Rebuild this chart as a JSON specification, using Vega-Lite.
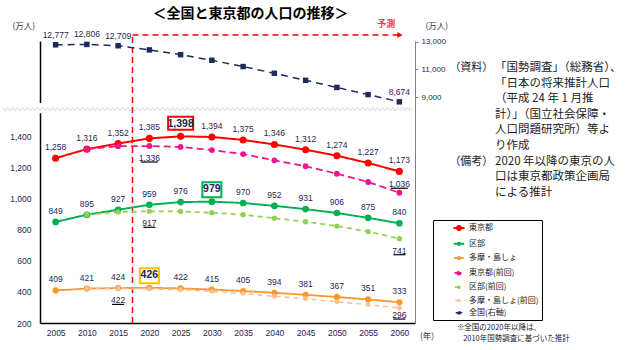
{
  "$schema": "https://vega.github.io/schema/vega-lite/v6.json",
  "width": 375,
  "height": 282,
  "autosize": {"type": "none"},
  "padding": {"left": 40, "top": 41, "right": 212, "bottom": 27},
  "background": "white",
  "title": {"text": "＜全国と東京都の人口の推移＞", "fontSize": 14, "font": "Noto Sans CJK JP", "fontWeight": "bold", "anchor": "middle", "frame": "group", "dx": 23, "offset": -1, "color": "#000000"},
  "config": {"view": {"stroke": null}, "font": "Noto Sans CJK JP"},
  "datasets": {
    "tokyo": [
      {"year": 2005, "series": "東京都", "value": 1258},
      {"year": 2010, "series": "東京都", "value": 1316},
      {"year": 2015, "series": "東京都", "value": 1352},
      {"year": 2020, "series": "東京都", "value": 1385},
      {"year": 2025, "series": "東京都", "value": 1398},
      {"year": 2030, "series": "東京都", "value": 1394},
      {"year": 2035, "series": "東京都", "value": 1375},
      {"year": 2040, "series": "東京都", "value": 1346},
      {"year": 2045, "series": "東京都", "value": 1312},
      {"year": 2050, "series": "東京都", "value": 1274},
      {"year": 2055, "series": "東京都", "value": 1227},
      {"year": 2060, "series": "東京都", "value": 1173},
      {"year": 2005, "series": "区部", "value": 849},
      {"year": 2010, "series": "区部", "value": 895},
      {"year": 2015, "series": "区部", "value": 927},
      {"year": 2020, "series": "区部", "value": 959},
      {"year": 2025, "series": "区部", "value": 976},
      {"year": 2030, "series": "区部", "value": 979},
      {"year": 2035, "series": "区部", "value": 970},
      {"year": 2040, "series": "区部", "value": 952},
      {"year": 2045, "series": "区部", "value": 931},
      {"year": 2050, "series": "区部", "value": 906},
      {"year": 2055, "series": "区部", "value": 875},
      {"year": 2060, "series": "区部", "value": 840},
      {"year": 2005, "series": "多摩・島しょ", "value": 409},
      {"year": 2010, "series": "多摩・島しょ", "value": 421},
      {"year": 2015, "series": "多摩・島しょ", "value": 424},
      {"year": 2020, "series": "多摩・島しょ", "value": 426},
      {"year": 2025, "series": "多摩・島しょ", "value": 422},
      {"year": 2030, "series": "多摩・島しょ", "value": 415},
      {"year": 2035, "series": "多摩・島しょ", "value": 405},
      {"year": 2040, "series": "多摩・島しょ", "value": 394},
      {"year": 2045, "series": "多摩・島しょ", "value": 381},
      {"year": 2050, "series": "多摩・島しょ", "value": 367},
      {"year": 2055, "series": "多摩・島しょ", "value": 351},
      {"year": 2060, "series": "多摩・島しょ", "value": 333},
      {"year": 2010, "series": "東京都(前回)", "value": 1316},
      {"year": 2015, "series": "東京都(前回)", "value": 1335},
      {"year": 2020, "series": "東京都(前回)", "value": 1336},
      {"year": 2025, "series": "東京都(前回)", "value": 1330},
      {"year": 2030, "series": "東京都(前回)", "value": 1310},
      {"year": 2035, "series": "東京都(前回)", "value": 1284},
      {"year": 2040, "series": "東京都(前回)", "value": 1244},
      {"year": 2045, "series": "東京都(前回)", "value": 1206},
      {"year": 2050, "series": "東京都(前回)", "value": 1158},
      {"year": 2055, "series": "東京都(前回)", "value": 1105},
      {"year": 2060, "series": "東京都(前回)", "value": 1036},
      {"year": 2010, "series": "区部(前回)", "value": 895},
      {"year": 2015, "series": "区部(前回)", "value": 913},
      {"year": 2020, "series": "区部(前回)", "value": 917},
      {"year": 2025, "series": "区部(前回)", "value": 916},
      {"year": 2030, "series": "区部(前回)", "value": 908},
      {"year": 2035, "series": "区部(前回)", "value": 895},
      {"year": 2040, "series": "区部(前回)", "value": 873},
      {"year": 2045, "series": "区部(前回)", "value": 850},
      {"year": 2050, "series": "区部(前回)", "value": 822},
      {"year": 2055, "series": "区部(前回)", "value": 787},
      {"year": 2060, "series": "区部(前回)", "value": 741},
      {"year": 2010, "series": "多摩・島しょ(前回)", "value": 421},
      {"year": 2015, "series": "多摩・島しょ(前回)", "value": 422},
      {"year": 2020, "series": "多摩・島しょ(前回)", "value": 419},
      {"year": 2025, "series": "多摩・島しょ(前回)", "value": 414},
      {"year": 2030, "series": "多摩・島しょ(前回)", "value": 402},
      {"year": 2035, "series": "多摩・島しょ(前回)", "value": 389},
      {"year": 2040, "series": "多摩・島しょ(前回)", "value": 371},
      {"year": 2045, "series": "多摩・島しょ(前回)", "value": 356},
      {"year": 2050, "series": "多摩・島しょ(前回)", "value": 336},
      {"year": 2055, "series": "多摩・島しょ(前回)", "value": 318},
      {"year": 2060, "series": "多摩・島しょ(前回)", "value": 296}
    ],
    "japan": [
      {"year": 2005, "series": "全国(右軸)", "value": 12777},
      {"year": 2010, "series": "全国(右軸)", "value": 12806},
      {"year": 2015, "series": "全国(右軸)", "value": 12709},
      {"year": 2020, "series": "全国(右軸)", "value": 12410},
      {"year": 2025, "series": "全国(右軸)", "value": 12066},
      {"year": 2030, "series": "全国(右軸)", "value": 11662},
      {"year": 2035, "series": "全国(右軸)", "value": 11212},
      {"year": 2040, "series": "全国(右軸)", "value": 10728},
      {"year": 2045, "series": "全国(右軸)", "value": 10221},
      {"year": 2050, "series": "全国(右軸)", "value": 9708},
      {"year": 2055, "series": "全国(右軸)", "value": 9193},
      {"year": 2060, "series": "全国(右軸)", "value": 8674}
    ]
  },
  "layer": [
    {
      "data": {"values": [{"k": 1}]},
      "encoding": {
        "x": {"type": "quantitative", "scale": {"domain": [2002.5, 2062.5], "nice": false, "zero": false},
          "axis": {"values": [2005, 2010, 2015, 2020, 2025, 2030, 2035, 2040, 2045, 2050, 2055, 2060], "labelExpr": "format(datum.value, 'd')", "labelOverlap": false, "title": null, "grid": false, "domainColor": "#000000", "domainWidth": 1.5, "ticks": false, "labelFontSize": 8.5, "labelColor": "#262650", "labelFont": "Liberation Sans Narrow, Liberation Sans", "labelPadding": 5}},
        "y": {"type": "quantitative", "scale": {"domain": [200, 2010], "nice": false, "zero": false}, "axis": null}
      },
      "layer": [
        {"mark": {"type": "rect", "color": "white"},
          "encoding": {"x": {"datum": 1990, "type": "quantitative"}, "x2": {"datum": 2062.2}, "y": {"datum": 1546, "type": "quantitative"}, "y2": {"datum": 1612}}},
        {"mark": {"type": "text", "text": "〰〰〰〰〰〰〰〰〰〰〰〰〰〰〰〰〰〰〰〰〰〰〰〰〰〰〰〰〰〰〰〰〰〰〰〰〰〰〰〰〰", "fontSize": 10, "color": "#c8c8c8", "font": "Noto Sans CJK JP"},
          "encoding": {"x": {"datum": 2029.3, "type": "quantitative"}, "y": {"datum": 1567, "type": "quantitative"}}},
        {"mark": {"type": "rule", "color": "#FF0000", "strokeDash": [6, 4], "strokeWidth": 1.5},
          "encoding": {"x": {"datum": 2017.3, "type": "quantitative"}, "y": {"datum": 200, "type": "quantitative"}, "y2": {"datum": 2048}}},
        {"mark": {"type": "rule", "color": "#FF0000", "strokeDash": [6, 4], "strokeWidth": 1.5},
          "encoding": {"x": {"datum": 2017.3, "type": "quantitative"}, "x2": {"datum": 2059.8}, "y": {"datum": 2048, "type": "quantitative"}}},
        {"mark": {"type": "point", "shape": "triangle-right", "filled": true, "size": 36, "color": "#FF0000", "opacity": 1},
          "encoding": {"x": {"datum": 2060.1, "type": "quantitative"}, "y": {"datum": 2048, "type": "quantitative"}}},
        {"mark": {"type": "text", "text": "予測", "fontSize": 9, "fontWeight": "bold", "color": "#FF3355", "font": "Noto Sans CJK JP"},
          "encoding": {"x": {"datum": 2057.9, "type": "quantitative"}, "y": {"datum": 2119, "type": "quantitative"}}},
        {"mark": {"type": "text", "text": "(万人)", "fontSize": 8.5, "color": "#333333", "font": "Noto Sans CJK JP"},
          "encoding": {"x": {"datum": 1999.9, "type": "quantitative"}, "y": {"datum": 2106, "type": "quantitative"}}},
        {"mark": {"type": "text", "text": "(万人)", "fontSize": 8.5, "color": "#333333", "font": "Noto Sans CJK JP"},
          "encoding": {"x": {"datum": 2066, "type": "quantitative"}, "y": {"datum": 2106, "type": "quantitative"}}},
        {"mark": {"type": "text", "text": "(年)", "fontSize": 8.5, "align": "left", "color": "#333333", "font": "Noto Sans CJK JP"},
          "encoding": {"x": {"datum": 2063.3, "type": "quantitative"}, "y": {"datum": 116.6, "type": "quantitative"}}},
        {"mark": {"type": "text", "text": "※全国の2020年以降は、", "fontSize": 7.5, "align": "left", "color": "#222222", "font": "Noto Sans CJK JP"},
          "encoding": {"x": {"datum": 2069.2, "type": "quantitative"}, "y": {"datum": 166, "type": "quantitative"}}},
        {"mark": {"type": "text", "text": "2010年国勢調査に基づいた推計", "fontSize": 7.5, "align": "left", "color": "#222222", "font": "Noto Sans CJK JP"},
          "encoding": {"x": {"datum": 2070.2, "type": "quantitative"}, "y": {"datum": 95.4, "type": "quantitative"}}},
        {"mark": {"type": "text", "text": "（資料）", "fontSize": 11, "align": "left", "baseline": "top", "color": "#222222", "font": "Noto Sans CJK JP"},
          "encoding": {"x": {"datum": 2068.0, "type": "quantitative"}, "y": {"datum": 1875, "type": "quantitative"}}},
        {"mark": {"type": "text", "text": "（備考）", "fontSize": 11, "align": "left", "baseline": "top", "color": "#222222", "font": "Noto Sans CJK JP"},
          "encoding": {"x": {"datum": 2068.0, "type": "quantitative"}, "y": {"datum": 1274.5, "type": "quantitative"}}},
        {"mark": {"type": "text", "text": "「国勢調査」（総務省）、\n「日本の将来推計人口\n（平成 24 年 1 月推\n計）」（国立社会保障・\n人口問題研究所）等よ\nり作成\n2020 年以降の東京の人\n口は東京都政策企画局\nによる推計", "lineBreak": "\n", "lineHeight": 15.6, "fontSize": 11.5, "align": "left", "baseline": "top", "color": "#222222", "font": "Noto Sans CJK JP"},
          "encoding": {"x": {"datum": 2075.3, "type": "quantitative"}, "y": {"datum": 1875, "type": "quantitative"}}}
      ]
    },
    {
      "data": {"name": "tokyo"},
      "encoding": {
        "x": {"field": "year", "type": "quantitative", "scale": {"domain": [2002.5, 2062.5], "nice": false, "zero": false},
          "axis": {"values": [2005, 2010, 2015, 2020, 2025, 2030, 2035, 2040, 2045, 2050, 2055, 2060], "labelExpr": "format(datum.value, 'd')", "labelOverlap": false, "title": null, "grid": false, "domainColor": "#000000", "domainWidth": 1.5, "ticks": false, "labelFontSize": 8.5, "labelColor": "#262650", "labelFont": "Liberation Sans Narrow, Liberation Sans", "labelPadding": 5}},
        "y": {"field": "value", "type": "quantitative", "scale": {"domain": [200, 2010], "nice": false, "zero": false},
          "axis": {"orient": "left", "values": [200, 400, 600, 800, 1000, 1200, 1400], "labelExpr": "format(datum.value, ',')", "title": null, "grid": false, "ticks": false, "labelPadding": 9, "domainColor": "#000000", "domainWidth": 1.5, "labelFontSize": 8.5, "labelColor": "#262650", "labelFont": "Liberation Sans Narrow, Liberation Sans"}}
      },
      "layer": [
        {"mark": {"type": "line"},
          "encoding": {
            "color": {"field": "series", "type": "nominal",
              "scale": {"domain": ["東京都", "区部", "多摩・島しょ", "東京都(前回)", "区部(前回)", "多摩・島しょ(前回)", "全国(右軸)"], "range": ["#FF0000", "#00B050", "#F79A2E", "#F0148C", "#92D050", "#FAC090", "#1F2A5C"]},
              "legend": {"title": null, "orient": "none", "legendX": 393, "legendY": 179, "strokeColor": "#000000", "padding": 3, "symbolSize": 196, "symbolOffset": 18, "labelOffset": 5, "rowPadding": 3.3, "labelFontSize": 8, "labelFont": "Noto Sans CJK JP", "labelColor": "#222222", "symbolStrokeWidth": 2, "fillColor": "white",
                "encode": {"symbols": {"update": {
                  "shape": {"signal": "(datum.value === '東京都' || datum.value === '東京都(前回)') ? 'M-1.57,0H1.57M0.57,0A0.57,0.57,0,1,1,-0.57,0A0.57,0.57,0,1,1,0.57,0' : (datum.value === '全国(右軸)' ? 'M-1.57,0H1.57M-0.43,-0.43H0.43V0.43H-0.43Z' : 'M-1.57,0H1.57M0.36,0A0.36,0.36,0,1,1,-0.36,0A0.36,0.36,0,1,1,0.36,0')"},
                  "size": {"value": 196},
                  "fill": {"signal": "scale('color', datum.value)"},
                  "stroke": {"signal": "scale('color', datum.value)"}}}}}},
            "strokeDash": {"field": "series", "type": "nominal",
              "scale": {"domain": ["東京都", "区部", "多摩・島しょ", "東京都(前回)", "区部(前回)", "多摩・島しょ(前回)", "全国(右軸)"], "range": [[1, 0], [1, 0], [1, 0], [7, 4], [5, 4], [5, 4], [7, 5]]},
              "legend": {"title": null}},
            "strokeWidth": {"field": "series", "type": "nominal",
              "scale": {"domain": ["東京都", "区部", "多摩・島しょ", "東京都(前回)", "区部(前回)", "多摩・島しょ(前回)", "全国(右軸)"], "range": [2, 1.5, 1.5, 2, 1.5, 1.5, 2.5]},
              "legend": null}
          }},
        {"mark": {"type": "point", "filled": true, "opacity": 1},
          "encoding": {
            "color": {"field": "series", "type": "nominal"},
            "size": {"field": "series", "type": "nominal",
              "scale": {"domain": ["東京都", "区部", "多摩・島しょ", "東京都(前回)", "区部(前回)", "多摩・島しょ(前回)", "全国(右軸)"], "range": [50, 17, 17, 50, 17, 17, 30]},
              "legend": null}
          }},
        {"transform": [{"filter": "(datum.series === '東京都' || datum.series === '区部' || datum.series === '多摩・島しょ') && !((datum.series === '東京都' && datum.year === 2025) || (datum.series === '区部' && datum.year === 2030) || (datum.series === '多摩・島しょ' && datum.year === 2020))"}],
          "mark": {"type": "text", "dy": -11, "fontSize": 8.5, "font": "Liberation Sans Narrow, Liberation Sans", "color": "#262650"},
          "encoding": {"text": {"field": "value", "type": "quantitative", "format": ","}}},
        {"transform": [{"filter": "datum.series === '東京都' && datum.year === 2025"}],
          "mark": {"type": "point", "shape": "M-1,-0.52H1V0.52H-1Z", "size": 625, "filled": true, "fill": "white", "stroke": "#FF0000", "strokeWidth": 2, "opacity": 1, "yOffset": -13}},
        {"transform": [{"filter": "(datum.series === '区部' && datum.year === 2030) || (datum.series === '多摩・島しょ' && datum.year === 2020)"}],
          "mark": {"type": "point", "shape": "M-1,-0.79H1V0.79H-1Z", "size": 361, "filled": true, "fill": "white", "strokeWidth": 2, "opacity": 1, "yOffset": -12},
          "encoding": {"stroke": {"field": "series", "type": "nominal", "scale": {"domain": ["区部", "多摩・島しょ"], "range": ["#00B050", "#FFC000"]}, "legend": null}}},
        {"transform": [{"filter": "(datum.series === '東京都' && datum.year === 2025) || (datum.series === '区部' && datum.year === 2030) || (datum.series === '多摩・島しょ' && datum.year === 2020)"}],
          "mark": {"type": "text", "dy": -12.5, "fontSize": 10.5, "fontWeight": "bold", "font": "Liberation Sans Narrow, Liberation Sans", "color": "#262650"},
          "encoding": {"text": {"field": "value", "type": "quantitative", "format": ","}}},
        {"transform": [{"filter": "(datum.series === '東京都(前回)' && datum.year === 2020) || (datum.series === '区部(前回)' && (datum.year === 2020 || datum.year === 2060)) || (datum.series === '多摩・島しょ(前回)' && datum.year === 2015)"}],
          "mark": {"type": "text", "dy": 12, "fontSize": 8.5, "font": "Liberation Sans Narrow, Liberation Sans", "color": "#262650"},
          "encoding": {"text": {"field": "value", "type": "quantitative", "format": ","}}},
        {"transform": [{"filter": "(datum.series === '東京都(前回)' && datum.year === 2020) || (datum.series === '区部(前回)' && (datum.year === 2020 || datum.year === 2060)) || (datum.series === '多摩・島しょ(前回)' && datum.year === 2015)"}],
          "mark": {"type": "point", "shape": "M-1,0H1", "filled": false, "stroke": "#000000", "strokeWidth": 1.2, "opacity": 1, "yOffset": 16},
          "encoding": {"size": {"condition": {"test": "datum.value >= 1000", "value": 289}, "value": 144}}},
        {"transform": [{"filter": "datum.series === '東京都(前回)' && datum.year === 2060"}],
          "mark": {"type": "text", "dy": -9, "fontSize": 8.5, "font": "Liberation Sans Narrow, Liberation Sans", "color": "#262650"},
          "encoding": {"text": {"field": "value", "type": "quantitative", "format": ","}}},
        {"transform": [{"filter": "datum.series === '東京都(前回)' && datum.year === 2060"}],
          "mark": {"type": "point", "shape": "M-1,0H1", "size": 289, "filled": false, "stroke": "#000000", "strokeWidth": 1.2, "opacity": 1, "yOffset": -4.5}},
        {"transform": [{"filter": "datum.series === '多摩・島しょ(前回)' && datum.year === 2060"}],
          "mark": {"type": "text", "dy": 7, "fontSize": 8.5, "font": "Liberation Sans Narrow, Liberation Sans", "color": "#262650"},
          "encoding": {"text": {"field": "value", "type": "quantitative", "format": ","}}},
        {"transform": [{"filter": "datum.series === '多摩・島しょ(前回)' && datum.year === 2060"}],
          "mark": {"type": "point", "shape": "M-1,0H1", "size": 144, "filled": false, "stroke": "#000000", "strokeWidth": 1.2, "opacity": 1, "yOffset": 11}}
      ]
    },
    {
      "data": {"name": "japan"},
      "encoding": {
        "x": {"field": "year", "type": "quantitative",
          "axis": {"values": [2005, 2010, 2015, 2020, 2025, 2030, 2035, 2040, 2045, 2050, 2055, 2060], "labelExpr": "format(datum.value, 'd')", "labelOverlap": false, "title": null, "grid": false, "domainColor": "#000000", "domainWidth": 1.5, "ticks": false, "labelFontSize": 8.5, "labelColor": "#262650", "labelFont": "Liberation Sans Narrow, Liberation Sans", "labelPadding": 5}},
        "y": {"field": "value", "type": "quantitative", "scale": {"domain": [-7237, 13050], "nice": false, "zero": false},
          "axis": {"orient": "right", "values": [9000, 11000, 13000], "labelExpr": "format(datum.value, ',')", "title": null, "grid": false, "domainColor": "#808080", "tickColor": "#808080", "tickSize": 3, "labelPadding": 3, "labelFontSize": 8, "labelColor": "#262650", "labelFont": "Liberation Sans Narrow, Liberation Sans"}}
      },
      "layer": [
        {"mark": {"type": "line"},
          "encoding": {
            "color": {"field": "series", "type": "nominal"},
            "strokeDash": {"field": "series", "type": "nominal"},
            "strokeWidth": {"field": "series", "type": "nominal", "legend": null}
          }},
        {"mark": {"type": "point", "shape": "square", "filled": true, "size": 30, "color": "#1F2A5C", "opacity": 1}},
        {"transform": [{"filter": "datum.year <= 2015 || datum.year === 2060"}],
          "mark": {"type": "text", "dy": -10, "fontSize": 8.5, "font": "Liberation Sans Narrow, Liberation Sans", "color": "#262650"},
          "encoding": {"text": {"field": "value", "type": "quantitative", "format": ","}}}
      ]
    }
  ],
  "resolve": {"scale": {"y": "independent"}}
}
